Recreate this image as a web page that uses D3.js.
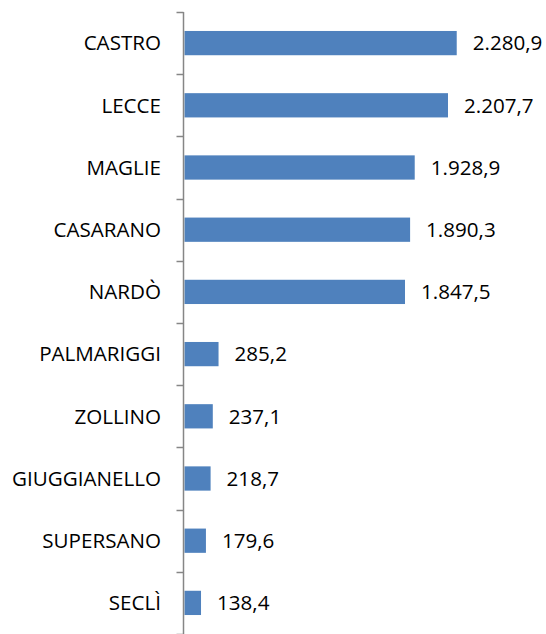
<!DOCTYPE html>
<html><head><meta charset="utf-8">
<script src="https://cdn.jsdelivr.net/npm/d3@7"></script>
<style>body{margin:0;background:#fff}svg{display:block}</style>
</head><body>
<svg id="c" width="546" height="634"></svg>
<script>
const categories = ["CASTRO","LECCE","MAGLIE","CASARANO","NARDÒ","PALMARIGGI","ZOLLINO","GIUGGIANELLO","SUPERSANO","SECLÌ"];
const values = [2280.9,2207.7,1928.9,1890.3,1847.5,285.2,237.1,218.7,179.6,138.4];
const valueLabels = ["2.280,9","2.207,7","1.928,9","1.890,3","1.847,5","285,2","237,1","218,7","179,6","138,4"];

(function(){
const svg = d3.select("#c");
const font = "'Open Sans', sans-serif";
const x0 = 184.5, yTop = 12, yBottom = 634;
const x = d3.scaleLinear().domain([0, 2500]).range([x0, x0 + 2500*0.11935]);
const y = d3.scaleBand().domain(categories).range([yTop, yBottom]).paddingInner(0.61).paddingOuter(0.305);
const yb = d3.scaleBand().domain(categories).range([yTop, yBottom]);

svg.selectAll("rect.bar").data(values).enter().append("rect")
  .attr("x", x(0)).attr("y", (d,i)=>y(categories[i]))
  .attr("width", d=>x(d)-x(0)).attr("height", y.bandwidth())
  .attr("fill", "#4F81BD");

const g = svg.append("g");
g.append("line").attr("x1", x0-1).attr("x2", x0-1).attr("y1", yTop).attr("y2", yBottom)
  .attr("stroke", "#868686").attr("stroke-width", 1.5);
const edges = categories.map(c=>yb(c)).concat([yBottom]);
g.selectAll("line.t").data(edges).enter().append("line")
  .attr("x1", x0-8).attr("x2", x0-1).attr("y1", d=>Math.round(d)+0.5).attr("y2", d=>Math.round(d)+0.5)
  .attr("stroke", "#868686").attr("stroke-width", 1.5);

svg.selectAll("text.cat").data(categories).enter().append("text")
  .attr("x", 161).attr("y", d=>yb(d)+yb.bandwidth()/2)
  .attr("dy", "0.35em").attr("text-anchor", "end")
  .style("font-family", font).style("font-size", "20.6px").attr("fill", "#000")
  .text(d=>d);

svg.selectAll("text.val").data(values).enter().append("text")
  .attr("x", d=>x(d)+16).attr("y", (d,i)=>yb(categories[i])+yb.bandwidth()/2)
  .attr("dy", "0.35em")
  .style("font-family", font).style("font-size", "20.6px").attr("fill", "#000")
  .text((d,i)=>valueLabels[i]);
})();
</script>
</body></html>
